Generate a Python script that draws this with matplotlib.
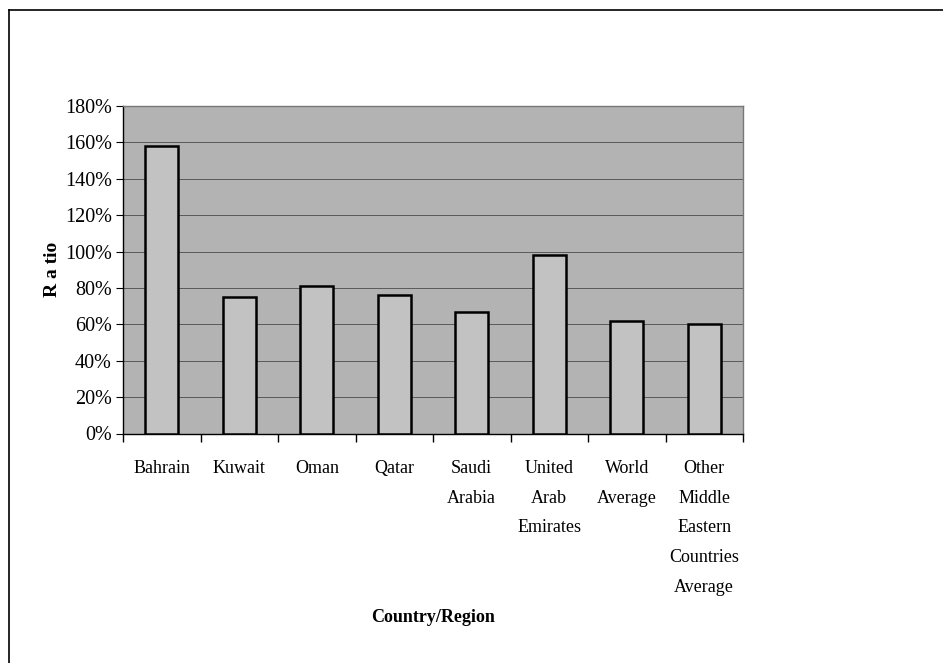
import matplotlib
matplotlib.use("Agg")
import matplotlib.pyplot as plt
from matplotlib.lines import Line2D
from matplotlib.ticker import FuncFormatter, MultipleLocator

categories = ["Bahrain", "Kuwait", "Oman", "Qatar", "Saudi\nArabia",
              "United\nArab\nEmirates", "World\nAverage",
              "Other\nMiddle\nEastern\nCountries\nAverage"]
ratios = [158, 75, 81, 76, 67, 98, 62, 60]

plt.rcParams['font.family'] = ['Liberation Serif', 'DejaVu Serif']

fig = plt.figure(figsize=(9.43, 6.63), dpi=100)
ax = fig.add_axes([123/943, 1-433.5/663, (743-123)/943, (433.5-106)/663])

x = list(range(len(categories)))
ax.bar(x, ratios, width=0.43, color='#c2c2c2', edgecolor='black', linewidth=1.8, zorder=3)
ax.set_facecolor('#b3b3b3')
ax.set_xlim(-0.5, len(categories) - 0.5)
ax.set_ylim(0, 180)
ax.yaxis.set_major_locator(MultipleLocator(20))
ax.yaxis.set_major_formatter(FuncFormatter(lambda v, p: f"{int(v)}%"))
ax.grid(axis='y', color='#5a5a5a', linewidth=0.7, zorder=1)

ax.set_xticks([i + 0.5 for i in range(-1, len(categories))])
ax.set_xticklabels([])
ax.set_xticks(x, minor=True)
ax.set_xticklabels(categories, minor=True, fontsize=13, va='top', linespacing=1.98)
ax.tick_params(axis='x', which='minor', length=0, pad=19)
ax.tick_params(axis='x', which='major', length=6, direction='out', width=1)
ax.tick_params(axis='y', length=5, direction='out', labelsize=14.5, pad=3)

for s in ['top', 'right']:
    ax.spines[s].set_color('#777777')
    ax.spines[s].set_linewidth(1)
for s in ['left', 'bottom']:
    ax.spines[s].set_color('black')
    ax.spines[s].set_linewidth(1)

ax.set_ylabel("R a tio", fontsize=14, fontweight='bold', labelpad=3)
fig.text(433/943, 1-618/663, "Country/Region", fontsize=13, fontweight='bold', ha='center', va='center')

# outer frame (top and left edges)
fig.add_artist(Line2D([9/943, 1], [1-10/663, 1-10/663], transform=fig.transFigure, color='black', linewidth=1.2))
fig.add_artist(Line2D([9/943, 9/943], [0, 1-10/663], transform=fig.transFigure, color='black', linewidth=1.2))

fig.savefig("out.png", dpi=100)
